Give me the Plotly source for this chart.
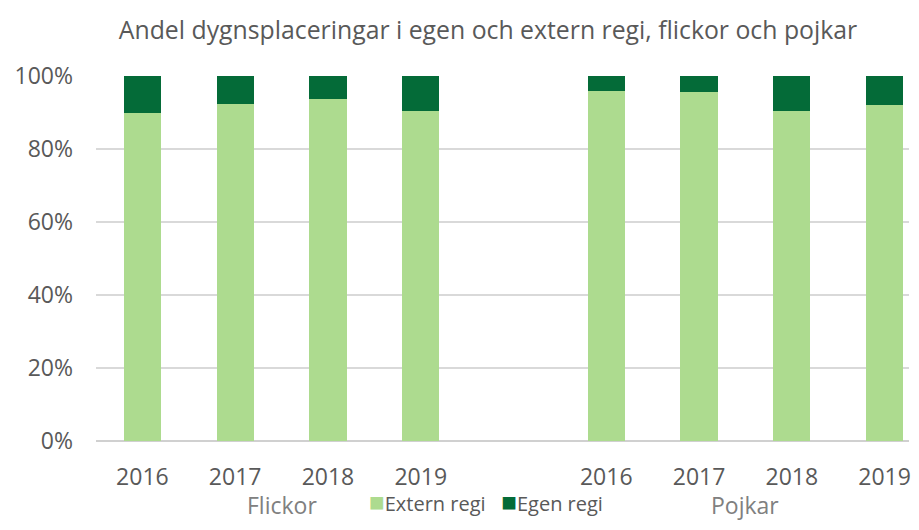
import plotly.graph_objs as go

years = ["2016", "2017", "2018", "2019"]
groups = ["Flickor", "Pojkar"]
series = ["Extern regi", "Egen regi"]
extern_flickor = [89.8, 92.2, 93.8, 90.4]
egen_flickor = [10.2, 7.8, 6.2, 9.6]
extern_pojkar = [96.0, 95.5, 90.3, 92.1]
egen_pojkar = [4.0, 4.5, 9.7, 7.9]
y_ticks = [0, 20, 40, 60, 80, 100]
y_labels = ["0%", "20%", "40%", "60%", "80%", "100%"]

LIGHT = "#addb8f"
DARK = "#046b38"
GREY = "#595959"
FONT = "Open Sans"

# four Flickor slots, one empty slot, four Pojkar slots
xpos = [0, 1, 2, 3, 5, 6, 7, 8]
extern = extern_flickor + extern_pojkar
egen = egen_flickor + egen_pojkar

fig = go.Figure()
fig.add_trace(go.Bar(x=xpos, y=extern, name=series[0], marker_color=LIGHT,
                     marker_line_width=0, width=0.4))
fig.add_trace(go.Bar(x=xpos, y=egen, name=series[1], marker_color=DARK,
                     marker_line_width=0, width=0.4))

# page has an 8px body margin, so the figure is 16px smaller than the window
fig.update_layout(
    barmode="stack",
    width=903, height=514,
    paper_bgcolor="white", plot_bgcolor="white",
    margin={"l": 88, "r": 0, "t": 68, "b": 81},
    font=dict(family=FONT, color=GREY, size=23),
    title=dict(text="Andel dygnsplaceringar i egen och extern regi, flickor och pojkar",
               x=480 / 903, xanchor="center", xref="container",
               y=1 - 22 / 514, yanchor="middle", yref="container",
               font=dict(size=24.8, color=GREY, family=FONT)),
    showlegend=False,
    bargap=0.6,
)

fig.update_xaxes(range=[-0.5, 8.263], tickvals=xpos,
                 ticktext=years + years, showgrid=False, zeroline=False,
                 showline=False, ticks="", ticklabelstandoff=20,
                 ticklabeloverflow="allow",
                 tickfont=dict(size=23, color=GREY))
fig.update_yaxes(range=[0, 100], tickvals=y_ticks, ticktext=y_labels,
                 showgrid=True, gridcolor="#d9d9d9", gridwidth=1.5,
                 zeroline=True, zerolinecolor="#d0d0d0", zerolinewidth=2,
                 ticklabelstandoff=22, tickfont=dict(size=23, color=GREY))

for i, g in enumerate(groups):
    fig.add_annotation(x=1.5 + 5 * i, y=-0.175, xref="x", yref="paper",
                       text=g, showarrow=False, yanchor="middle",
                       font=dict(size=23, color="#808080", family=FONT))

# legend drawn as text so it does not push the bottom margin
legend_text = (f"<span style='color:{LIGHT};font-size:26px'>■</span>{series[0]}"
               f"   <span style='color:{DARK};font-size:26px'>■</span>{series[1]}")
fig.add_annotation(x=0.48, y=-0.165, xref="paper", yref="paper",
                   text=legend_text, showarrow=False, xanchor="center",
                   yanchor="middle", font=dict(size=20, color=GREY, family=FONT))

fig.write_html("out.html")
